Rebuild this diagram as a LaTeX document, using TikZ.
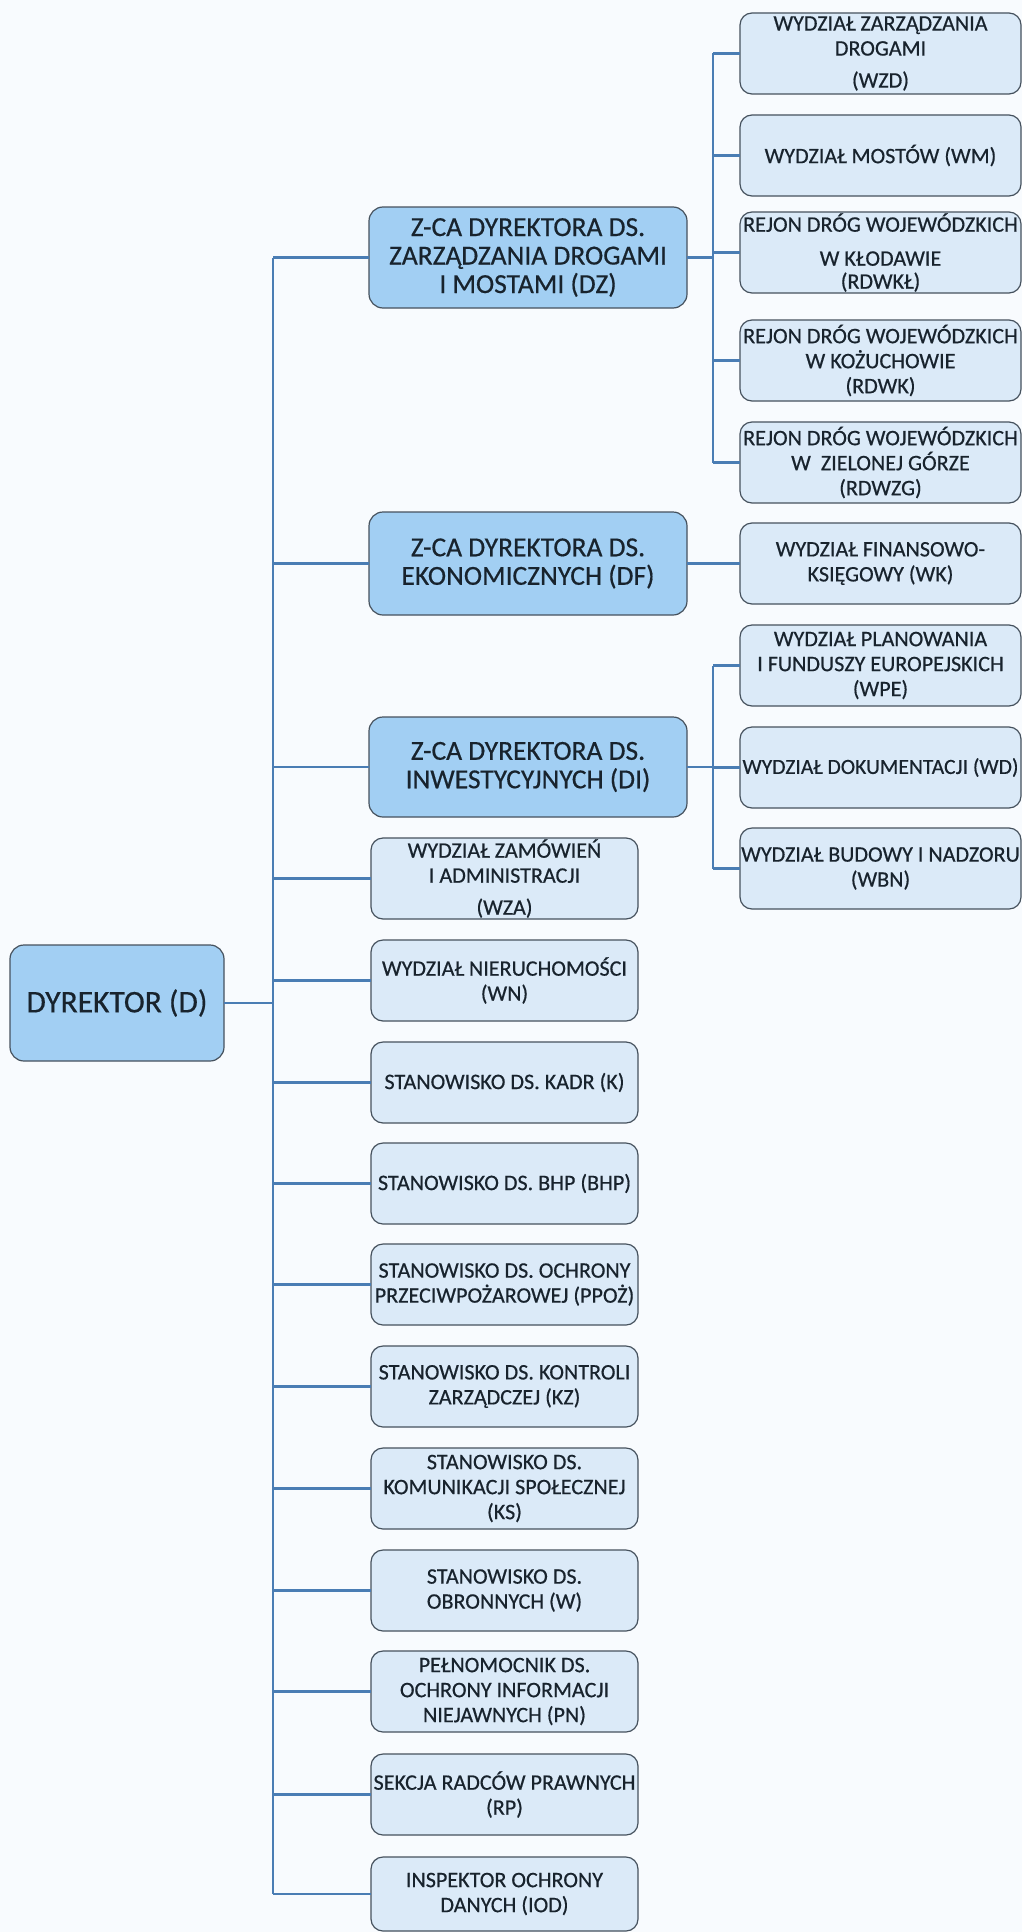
\documentclass[tikz,border=0pt]{standalone}
\usepackage{fontspec}
\setmainfont{Carlito}[FakeBold=0.5]
\definecolor{bgcol}{HTML}{F8FBFE}
\definecolor{majfill}{HTML}{A2CFF3}
\definecolor{minfill}{HTML}{DBEAF8}
\definecolor{bordcol}{HTML}{46525E}
\definecolor{linecol}{HTML}{4A7DB4}
\definecolor{txtcol}{HTML}{18232D}
\tikzset{
  boxbase/.style={draw=bordcol, line width=1.2pt, inner sep=0pt, outer sep=0pt,
    align=center, text=txtcol, anchor=north west},
  majorbox/.style={boxbase, fill=majfill, rounded corners=14pt,
    font=\fontsize{27.5}{28.5}\selectfont},
  minorbox/.style={boxbase, fill=minfill, rounded corners=12pt,
    font=\fontsize{22.1}{25}\selectfont},
  rbox/.style={minorbox, minimum width=281pt, minimum height=81pt},
  lbox/.style={minorbox, minimum width=267pt, minimum height=81pt},
  conn/.style={draw=linecol, line width=2.6pt},
}
\begin{document}
\begin{tikzpicture}[x=1pt, y=-1pt]
\fill[bgcol] (0,0) rectangle (1022,1932);
\useasboundingbox (0,0) rectangle (1022,1932);
\coordinate (trunk) at (273,0);
\coordinate (subA) at (713,0);

% director
\node[majorbox, minimum width=214pt, minimum height=116pt,
      font=\fontsize{31.5}{33}\selectfont] (D) at (10,945) {DYREKTOR (D)};

% deputies
\node[majorbox, minimum width=318pt, minimum height=101pt] (DZ) at (369,207)
  {Z-CA DYREKTORA DS.\\ZARZĄDZANIA DROGAMI\\I MOSTAMI (DZ)};
\node[majorbox, minimum width=318pt, minimum height=103pt] (DF) at (369,512)
  {Z-CA DYREKTORA DS.\\EKONOMICZNYCH (DF)};
\node[majorbox, minimum width=318pt, minimum height=100pt] (DI) at (369,717)
  {Z-CA DYREKTORA DS.\\INWESTYCYJNYCH (DI)};

% right column
\node[rbox] (WZD) at (740,13) {WYDZIAŁ ZARZĄDZANIA\\DROGAMI\\[7pt](WZD)};
\node[rbox] (WM) at (740,115) {WYDZIAŁ MOSTÓW (WM)};
\node[rbox] (RDWKL) at (740,212) {REJON DRÓG WOJEWÓDZKICH\\[9pt]W KŁODAWIE\\[-2pt](RDWKŁ)};
\node[rbox] (RDWK) at (740,320) {REJON DRÓG WOJEWÓDZKICH\\W KOŻUCHOWIE\\(RDWK)};
\node[rbox] (RDWZG) at (740,422) {REJON DRÓG WOJEWÓDZKICH\\W~~ZIELONEJ GÓRZE\\(RDWZG)};
\node[rbox] (WK) at (740,523) {WYDZIAŁ FINANSOWO-\\KSIĘGOWY (WK)};
\node[rbox] (WPE) at (740,625) {WYDZIAŁ PLANOWANIA\\I FUNDUSZY EUROPEJSKICH\\(WPE)};
\node[rbox, font=\fontsize{21.6}{25}\selectfont] (WD) at (740,727) {WYDZIAŁ DOKUMENTACJI (WD)};
\node[rbox] (WBN) at (740,828) {WYDZIAŁ BUDOWY I NADZORU\\(WBN)};

% left column
\node[lbox] (WZA) at (371,838) {WYDZIAŁ ZAMÓWIEŃ\\I ADMINISTRACJI\\[7pt](WZA)};
\node[lbox] (WN) at (371,940) {WYDZIAŁ NIERUCHOMOŚCI\\(WN)};
\node[lbox] (K) at (371,1042) {STANOWISKO DS. KADR (K)};
\node[lbox] (BHP) at (371,1143) {STANOWISKO DS. BHP (BHP)};
\node[lbox] (PPOZ) at (371,1244) {STANOWISKO DS. OCHRONY\\PRZECIWPOŻAROWEJ (PPOŻ)};
\node[lbox] (KZ) at (371,1346) {STANOWISKO DS. KONTROLI\\ZARZĄDCZEJ (KZ)};
\node[lbox] (KS) at (371,1448) {STANOWISKO DS.\\KOMUNIKACJI SPOŁECZNEJ\\(KS)};
\node[lbox] (W) at (371,1550) {STANOWISKO DS.\\OBRONNYCH (W)};
\node[lbox] (PN) at (371,1651) {PEŁNOMOCNIK DS.\\OCHRONY INFORMACJI\\NIEJAWNYCH (PN)};
\node[lbox] (RP) at (371,1754) {SEKCJA RADCÓW PRAWNYCH\\(RP)};
\node[lbox, minimum height=74pt] (IOD) at (371,1857) {INSPEKTOR OCHRONY\\DANYCH (IOD)};

% connectors: director trunk
\draw[conn] (D.east) -- (D.east -| trunk);
\draw[conn] (trunk |- DZ.west) -- (trunk |- IOD.west);
\foreach \n in {DZ,DF,DI,WZA,WN,K,BHP,PPOZ,KZ,KS,W,PN,RP,IOD}
  \draw[conn] (trunk |- \n.west) -- (\n.west);

% DZ group
\draw[conn] (subA |- WZD.west) -- (subA |- RDWZG.west);
\draw[conn] (DZ.east) -- (DZ.east -| subA);
\foreach \n in {WZD,WM,RDWKL,RDWK,RDWZG}
  \draw[conn] (subA |- \n.west) -- (\n.west);

% DF
\draw[conn] (DF.east) -- (WK.west);

% DI group
\draw[conn] (subA |- WPE.west) -- (subA |- WBN.west);
\draw[conn] (DI.east) -- (DI.east -| subA);
\foreach \n in {WPE,WD,WBN}
  \draw[conn] (subA |- \n.west) -- (\n.west);
\end{tikzpicture}
\end{document}
